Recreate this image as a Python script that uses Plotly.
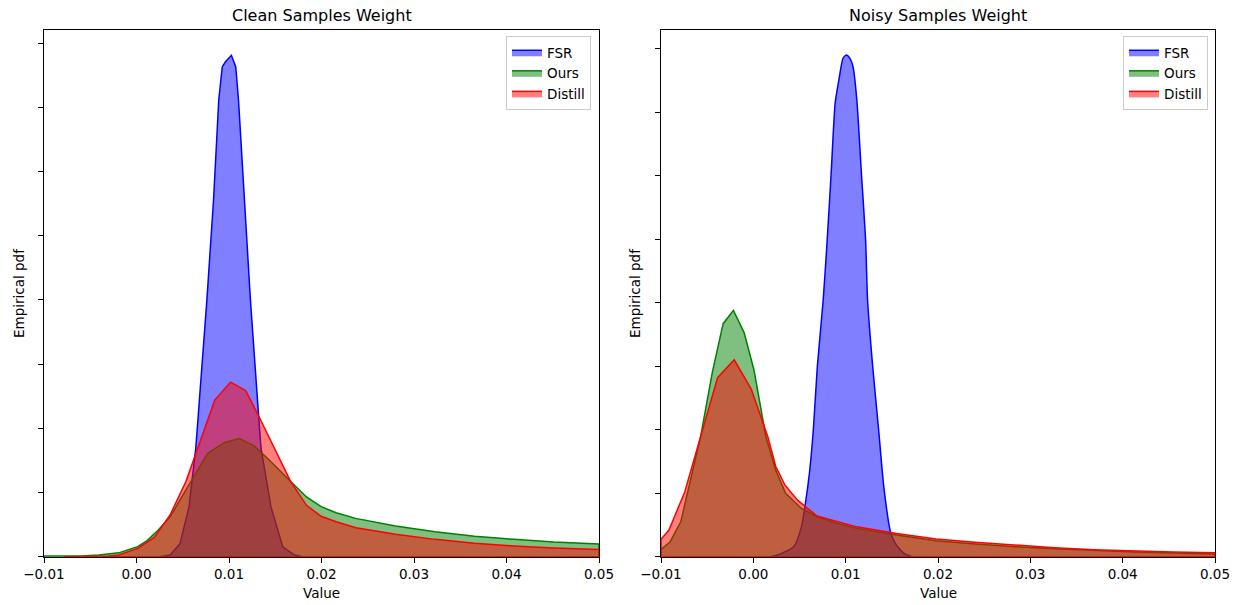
import plotly.graph_objects as go

# ---------------- data (pdf values) ----------------
clean_fsr_x = [0.0025, 0.0030, 0.00363, 0.0047, 0.00568, 0.00641, 0.00705, 0.00761, 0.00833, 0.00889,
               0.00927, 0.00962, 0.01026, 0.01073, 0.01103, 0.01167, 0.01231, 0.01316, 0.01346, 0.01453,
               0.01581, 0.01709, 0.0180]
clean_fsr_y = [0, 0.2, 0.52, 4, 15.6, 33.8, 58, 80, 111.2, 142.2,
               152.6, 154.2, 156.2, 152.6, 142.2, 111.2, 80.2, 45.6, 33.8, 15.6,
               3.1, 0.5, 0]

clean_ours_x = [-0.0100, -0.0060, -0.00406, -0.00192, 0.00013, 0.00115, 0.00235, 0.00363, 0.00534, 0.00769,
                0.00953, 0.01111, 0.01269, 0.01432, 0.01667, 0.01838, 0.01996, 0.02158, 0.0237, 0.028,
                0.03226, 0.03654, 0.0408, 0.0451, 0.05]
clean_ours_y = [0.2, 0.2, 0.52, 1.2, 3.12, 5.0, 8.3, 12.4, 20.8, 32.2,
                35.6, 36.8, 34.6, 30.2, 23.4, 18.6, 15.6, 13.7, 11.94, 9.56,
                7.8, 6.4, 5.4, 4.56, 3.94]

clean_distill_x = [-0.0079, -0.0030, -0.00192, 0.00013, 0.00192, 0.00363, 0.00534, 0.00684, 0.00846, 0.01017,
                   0.0118, 0.01325, 0.01517, 0.01667, 0.01838, 0.01996, 0.02158, 0.02372, 0.028, 0.03226,
                   0.03654, 0.0408, 0.0451, 0.05]
clean_distill_y = [0, 0.2, 0.52, 2.6, 6.0, 13.0, 23.4, 35.4, 48.8, 54.4,
                   51.8, 43.6, 32.2, 23.4, 16.0, 12.6, 10.9, 9.0, 7.0, 5.4,
                   4.2, 3.32, 2.7, 2.28]

noisy_fsr_x = [0.0018, 0.00264, 0.00436, 0.00521, 0.00564, 0.00607, 0.0065, 0.00693, 0.00757, 0.0080,
               0.00843, 0.00886, 0.00929, 0.00971, 0.01006, 0.01036, 0.01079, 0.01121, 0.01173, 0.01216,
               0.01237, 0.01293, 0.01357, 0.01413, 0.01486, 0.0155, 0.01636, 0.0172]
noisy_fsr_y = [0, 0.52, 3.14, 9.4, 16.8, 26.2, 40, 59.8, 81, 99.8,
               120.8, 142.8, 150.6, 157, 158, 157.4, 154.4, 143.8, 119.6, 99.8,
               81, 59.8, 40, 22, 7.8, 3.6, 1.0, 0]

noisy_ours_x = [-0.01, -0.00901, -0.00786, -0.00636, -0.00571, -0.00443, -0.00327, -0.00216, -0.001, 0.00007,
                0.00136, 0.00243, 0.0035, 0.00521, 0.00693, 0.00907, 0.01121, 0.0155, 0.01979, 0.02407,
                0.02836, 0.03264, 0.03693, 0.04121, 0.0455, 0.05]
noisy_ours_y = [2.3, 4.72, 11, 29.4, 37.8, 58.2, 73.4, 77.6, 70.6, 58.8,
                37.8, 27.2, 20, 15.2, 12.6, 10.5, 8.92, 6.8, 5.04, 4.0,
                3.14, 2.52, 1.88, 1.46, 1.16, 0.84]

noisy_distill_x = [-0.01, -0.00914, -0.00743, -0.00571, -0.00387, -0.00207, -0.00023, 0.00157, 0.00243, 0.00341,
                   0.00479, 0.0069, 0.00907, 0.0112, 0.0155, 0.0198, 0.024, 0.0284, 0.0326, 0.0369,
                   0.0412, 0.0455, 0.05]
noisy_distill_y = [5.46, 8.4, 20.4, 37.8, 56.4, 62, 52.8, 37.8, 28.4, 22.6,
                   17.8, 12.8, 11, 9.4, 7.34, 5.6, 4.52, 3.56, 2.84, 2.2,
                   1.78, 1.46, 1.26]

series_names = ["FSR", "Ours", "Distill"]
panel_titles = ["Clean Samples Weight", "Noisy Samples Weight"]
x_tick_vals = [-0.01, 0.0, 0.01, 0.02, 0.03, 0.04, 0.05]
x_tick_text = ["\u22120.01", "0.00", "0.01", "0.02", "0.03", "0.04", "0.05"]
y_tick_vals = [0, 20, 40, 60, 80, 100, 120, 140, 160]

# ---------------- styling ----------------
W, H = 1241, 605
OFF = 0  # page body margin removed via post_script
FONT = "DejaVu Sans"
line_cols = ["rgb(0,0,255)", "rgb(0,128,0)", "rgb(255,0,0)"]
fill_cols = ["rgba(0,0,255,0.5)", "rgba(0,128,0,0.5)", "rgba(255,0,0,0.5)"]


def fx(px):
    return (px - OFF) / W


def fy(py):
    return 1 - (py - OFF) / H


panels = [
    [(clean_fsr_x, clean_fsr_y), (clean_ours_x, clean_ours_y), (clean_distill_x, clean_distill_y)],
    [(noisy_fsr_x, noisy_fsr_y), (noisy_ours_x, noisy_ours_y), (noisy_distill_x, noisy_distill_y)],
]

fig = go.Figure()
for p, series in enumerate(panels):
    xa = "x" if p == 0 else "x2"
    ya = "y" if p == 0 else "y2"
    lg = "legend" if p == 0 else "legend2"
    for i, (xs, ys) in enumerate(series):
        # close polygon along the baseline like matplotlib's fill
        px = list(xs) + [xs[-1], xs[0], xs[0]]
        py = list(ys) + [0, 0, ys[0]]
        shape = "spline" if (p == 1 and i == 0) else "linear"
        fig.add_trace(go.Scatter(
            x=px, y=py, mode="lines", fill="toself",
            fillcolor=fill_cols[i],
            line=dict(color=line_cols[i], width=1.5, shape=shape, smoothing=0.6),
            name=series_names[i], xaxis=xa, yaxis=ya, legend=lg,
            hoverinfo="skip",
        ))

left_dom = [fx(44), fx(599)]
right_dom = [fx(661), fx(1215)]
y_dom = [fy(556.7), fy(30)]


def xaxis_cfg(dom, anchor):
    return dict(domain=dom, anchor=anchor, range=[-0.01, 0.05], automargin=False,
                showline=True, mirror=True, linecolor="black", linewidth=1,
                ticks="outside", ticklen=5, tickcolor="black", tickwidth=1,
                tickvals=x_tick_vals, ticktext=x_tick_text,
                showgrid=False, zeroline=False,
                tickfont=dict(family=FONT, size=13.5, color="black"))


def yaxis_cfg(anchor, top):
    return dict(domain=y_dom, anchor=anchor, range=[0, top], automargin=False,
                showline=True, mirror=True, linecolor="black", linewidth=1,
                ticks="outside", ticklen=5, tickcolor="black", tickwidth=1,
                tickvals=y_tick_vals, showticklabels=False,
                showgrid=False, zeroline=False)


legend_common = dict(bgcolor="white", bordercolor="#cccccc", borderwidth=1,
                     font=dict(family=FONT, size=13.5, color="black"),
                     xanchor="right", yanchor="top", itemwidth=30,
                     traceorder="normal", tracegroupgap=0)

fig.update_layout(
    width=W, height=H, autosize=False,
    margin=dict(l=0, r=0, t=0, b=0, pad=0),
    paper_bgcolor="white", plot_bgcolor="white",
    font=dict(family=FONT, size=13.5, color="black"),
    xaxis=xaxis_cfg(left_dom, "y"),
    yaxis=yaxis_cfg("x", 164.1),
    xaxis2=xaxis_cfg(right_dom, "y2"),
    yaxis2=yaxis_cfg("x2", 165.9),
    legend=dict(x=fx(591), y=fy(36), **legend_common),
    legend2=dict(x=fx(1208), y=fy(36), **legend_common),
    showlegend=True,
)

ann = []
for p, (a, b) in enumerate([(44, 599), (661, 1215)]):
    cx = fx((a + b) / 2)
    ann.append(dict(text=panel_titles[p], x=cx, y=fy(15), xref="paper", yref="paper",
                    showarrow=False, xanchor="center", yanchor="middle",
                    font=dict(family=FONT, size=16, color="black")))
    ann.append(dict(text="Value", x=cx, y=fy(593), xref="paper", yref="paper",
                    showarrow=False, xanchor="center", yanchor="middle",
                    font=dict(family=FONT, size=13.5, color="black")))
for xpix in [19, 635]:
    ann.append(dict(text="Empirical pdf", x=fx(xpix), y=fy(293), xref="paper", yref="paper",
                    showarrow=False, xanchor="center", yanchor="middle", textangle=-90,
                    font=dict(family=FONT, size=13.5, color="black")))
fig.update_layout(annotations=ann)

fig.write_html("out.html",
               config={"displayModeBar": False},
               post_script="document.body.style.margin='0';document.body.style.overflow='hidden';")
